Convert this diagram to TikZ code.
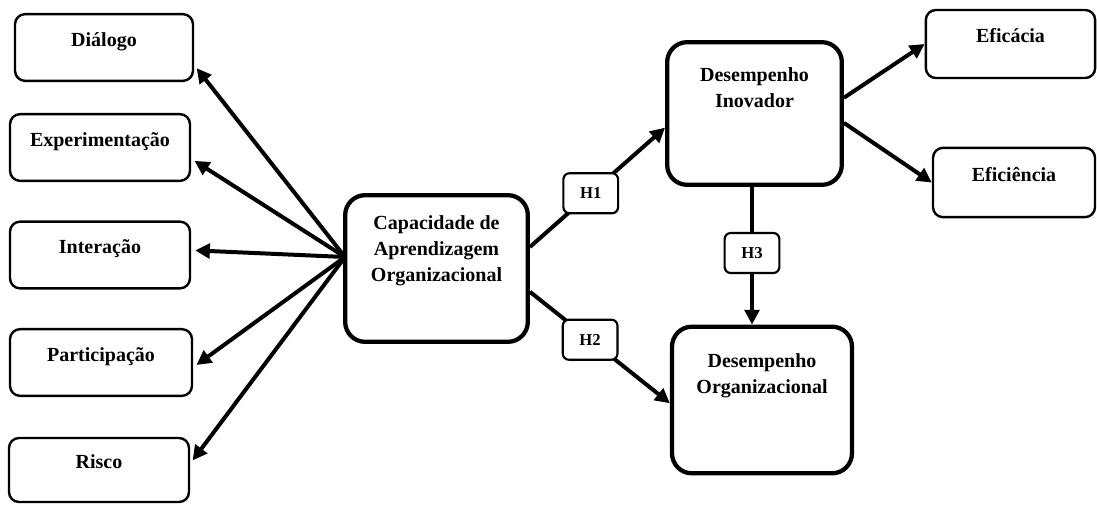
\documentclass[tikz,border=0pt]{standalone}
\usepackage{fontspec}
\setmainfont{Liberation Serif}
\usetikzlibrary{arrows.meta}

\begin{document}
\begin{tikzpicture}[x=0.75pt, y=-0.75pt,
  dim/.style={draw, line width=1.8pt, rounded corners=7.5pt, minimum width=135pt, minimum height=50pt,
    font=\bfseries\fontsize{15}{19.5}\selectfont, text height=10pt, text depth=12.2pt},
  construct/.style={draw, line width=3.2pt, rounded corners=15pt, align=center,
    font=\bfseries\fontsize{15}{19.5}\selectfont},
  hyp/.style={draw, fill=white, line width=1.6pt, rounded corners=4.5pt, minimum width=41pt, minimum height=30pt,
    font=\bfseries\fontsize{12.5}{14}\selectfont},
  link/.style={line width=3pt, -{Triangle[length=11pt, width=11pt]}}]
  \useasboundingbox (0,0) rectangle (1097,504);

  % dimensions of learning capability
  \node[dim, minimum width=133.5pt] (dialogo) at (104,47.5) {Diálogo};
  \node[dim] (experimentacao) at (100,147.5) {Experimentação};
  \node[dim] (interacao) at (100,255) {Interação};
  \node[dim, minimum width=136.5pt] (participacao) at (101,362.5) {Participação};
  \node[dim, minimum height=48pt] (risco) at (99,470) {Risco};

  % constructs
  \node[construct, minimum width=137pt, minimum height=110pt] (cap) at (436.5,268.5)
    {Capacidade de\\Aprendizagem\\Organizacional\\[0.5\baselineskip]\mbox{}};
  \node[construct, minimum width=131pt, minimum height=107pt] (di) at (754.5,113.5)
    {Desempenho\\Inovador\\\mbox{}\\\mbox{}};
  \node[construct, minimum width=135pt, minimum height=110pt] (do) at (762,400)
    {Desempenho\\Organizacional\\\mbox{}\\\mbox{}};

  % dimensions of innovative performance
  \node[dim, minimum width=127pt, minimum height=51pt] (eficacia) at (1010.5,44) {Eficácia};
  \node[dim, minimum width=121.5pt, minimum height=52pt] (eficiencia) at (1014,182.5) {Eficiência};

  % arrows to the dimensions
  \coordinate (fan) at (345,257);
  \draw[link, shorten >=3pt] (fan) -- (dialogo.-11);
  \draw[link, shorten >=3pt] (fan) -- (experimentacao.-7);
  \draw[link, shorten >=3pt] (fan) -- (interacao.3);
  \draw[link, shorten >=3pt] (fan) -- (participacao.-3);
  \draw[link, shorten >=3pt] (fan) -- (risco.4);
  \draw[link] (di.10) -- (eficacia.west);
  \draw[link] (di.-6) -- (eficiencia.west);

  % hypotheses
  \draw[link] (cap.13) -- node[hyp, pos=0.45] (h1) {H1} (di.189);
  \draw[link] (cap.-14) -- node[hyp, pos=0.43] (h2) {H2} (do.182);
  \draw[link] (di.south -| 752,0) -- node[hyp, pos=0.48] (h3) {H3} (do.north -| 752,0);
\end{tikzpicture}
\end{document}
